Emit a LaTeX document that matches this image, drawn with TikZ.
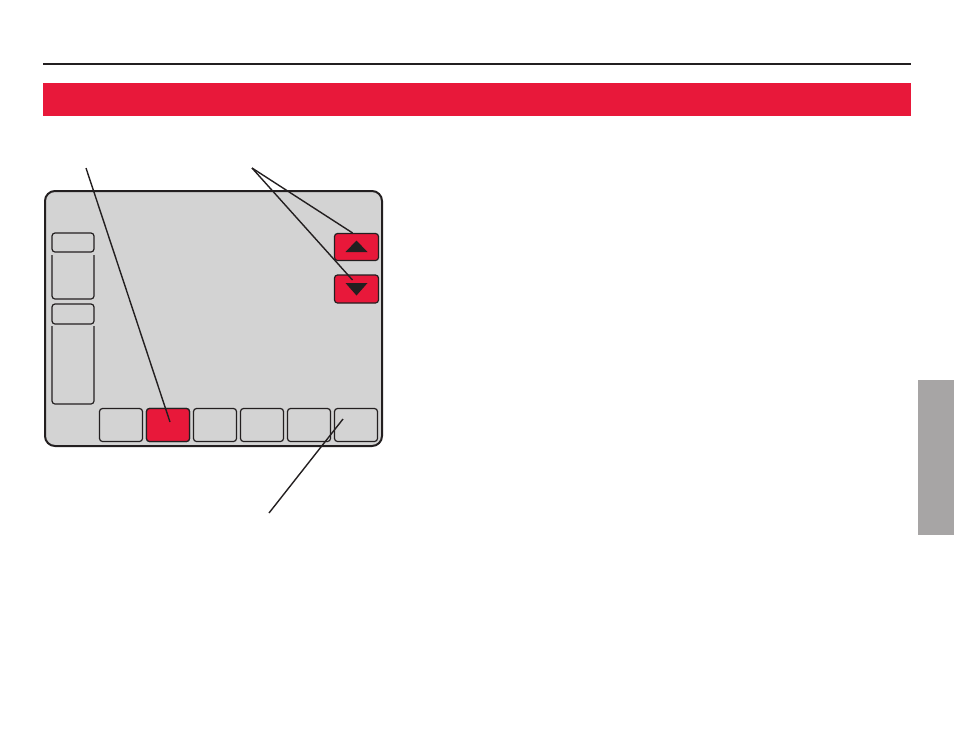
\documentclass[tikz,border=0pt]{standalone}
\usetikzlibrary{positioning, calc}
\definecolor{cred}{HTML}{E8183A}
\definecolor{cscreen}{HTML}{D3D3D3}
\definecolor{ctab}{HTML}{A7A5A5}
\definecolor{cink}{HTML}{231F20}
\tikzset{
  every picture/.style={line width=1.2pt, x=1pt, y=-1pt},
  screen/.style={draw=cink, fill=cscreen, rounded corners=10pt, line width=2pt, minimum width=337pt, minimum height=255pt},
  key/.style={draw=cink, fill=#1, rounded corners=3pt, line width=1.2pt, minimum width=43pt, minimum height=33pt, inner sep=0pt},
  key/.default=cscreen,
  arrowkey/.style={key=cred, minimum width=44pt, minimum height=27pt},
  leader/.style={draw=cink, line width=1.4pt},
  panel/.style={draw=cink, line width=1.2pt, rounded corners=3pt},
}
\begin{document}
\begin{tikzpicture}
  \useasboundingbox (0,0) rectangle (954,737);
  % page header
  \draw[cink, line width=2pt] (43,64) -- (911,64);
  \fill[cred] (43,83) rectangle (911,116);
  \fill[ctab] (918,380) rectangle (954,535);
  % thermostat screen
  \node[screen] (scr) at (213.5,318.5) {};
  \draw[panel] (52,233) rectangle (94,252);
  \draw[panel] (52,255) -- (52,299) -- (94,299) -- (94,255);
  \draw[panel] (52,304) rectangle (94,324);
  \draw[panel] (52,326) -- (52,404) -- (94,404) -- (94,326);
  \node[arrowkey] (up) at (356.5,247) {};
  \node[arrowkey, minimum height=28pt] (dn) at (356.5,289) {};
  \fill[cink] (up.center) +(-11,5) -- +(11,5) -- +(0,-6.5) -- cycle;
  \fill[cink] (dn.center) +(-11,-6) -- +(11,-6) -- +(0,6.5) -- cycle;
  \foreach \i in {0,...,5}
    \node[key] (b\i) at (121+47*\i,425) {};
  \node[key=cred] at (b1) {};
  % leader lines
  \coordinate (l1) at (86,168);
  \coordinate (l2) at (252,168);
  \coordinate (l3) at (269,513);
  \draw[leader] (l1) -- ([xshift=2pt,yshift=3pt]b1.center);
  \draw[leader] (l2) -- ([xshift=-4pt]up.north);
  \draw[leader] (l2) -- ([xshift=-4pt,yshift=9pt]dn.center);
  \draw[leader] (l3) -- ([xshift=-13pt,yshift=6pt]b5.center);
\end{tikzpicture}
\end{document}
